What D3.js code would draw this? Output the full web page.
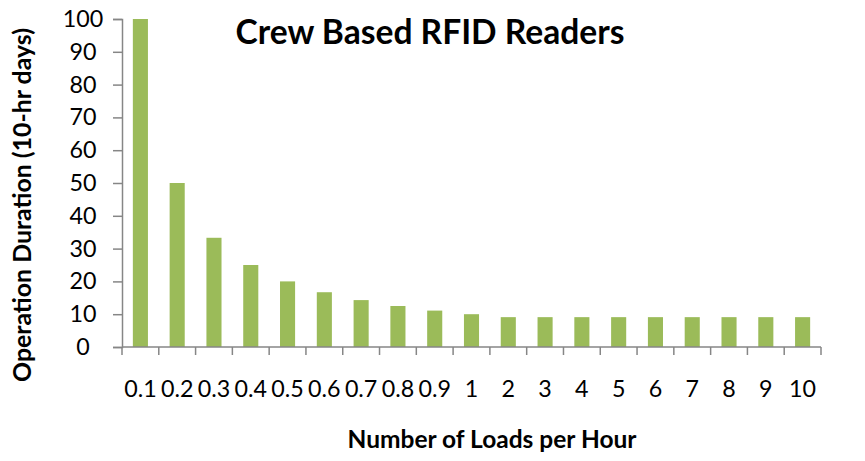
<!DOCTYPE html>
<html>
<head>
<meta charset="utf-8">
<script src="https://cdn.jsdelivr.net/npm/d3@7"></script>
<style>
  html, body { margin: 0; padding: 0; background: #fff; }
  svg { display: block; font-family: Lato, "Open Sans", sans-serif; }
</style>
</head>
<body>
<svg id="chart" width="865" height="461"></svg>
<script>
// Operation duration for crew-based RFID readers by load rate
const categories = ["0.1","0.2","0.3","0.4","0.5","0.6","0.7","0.8","0.9","1","2","3","4","5","6","7","8","9","10"];
const durations = [100, 50, 33.3, 25, 20, 16.7, 14.3, 12.5, 11.1, 10, 9.1, 9.1, 9.1, 9.1, 9.1, 9.1, 9.1, 9.1, 9.1];
const yTicks = [0, 10, 20, 30, 40, 50, 60, 70, 80, 90, 100];

const titleText = "Crew Based RFID Readers";
const xTitle = "Number of Loads per Hour";
const yTitle = "Operation Duration (10-hr days)";

const svg = d3.select("#chart");
const plotLeft = 122, plotRight = 821, plotTop = 19, plotBottom = 347;
const axisColor = "#868686";
const barColor = "#9BBB59";

// pick a tick font size that makes a two-digit label about 27px wide
const probe = svg.append("text").attr("font-size", 20).text("50");
const tickFont = 20 * 27 / probe.node().getComputedTextLength();
probe.remove();

const x = d3.scaleBand().domain(categories).range([plotLeft, plotRight]).paddingInner(0.59).paddingOuter(0.295);
const y = d3.scaleLinear().domain([0, 100]).range([plotBottom, plotTop]);

// bars
svg.append("g").selectAll("rect").data(durations).join("rect")
  .attr("x", (d, i) => x(categories[i]))
  .attr("y", d => y(d))
  .attr("width", x.bandwidth())
  .attr("height", d => y(0) - y(d))
  .attr("fill", barColor);

// y axis
const yAxis = svg.append("g").attr("transform", `translate(${plotLeft},0)`)
  .call(d3.axisLeft(y).tickValues(yTicks).tickSize(9).tickPadding(6));
yAxis.select(".domain").attr("stroke", axisColor).attr("stroke-width", 1.5);
yAxis.selectAll(".tick line").attr("stroke", axisColor).attr("stroke-width", 1.5);
// tick labels are centred in the margin column
yAxis.selectAll(".tick text")
  .attr("font-size", tickFont).attr("fill", "#000")
  .attr("font-family", "Lato, sans-serif")
  .attr("text-anchor", "middle")
  .attr("x", 83 - plotLeft);

// x axis: ticks sit on the category boundaries
const xAxis = svg.append("g").attr("transform", `translate(0,${plotBottom})`);
xAxis.append("line").attr("x1", plotLeft).attr("x2", plotRight).attr("stroke", axisColor).attr("stroke-width", 1.5);
const bounds = d3.range(categories.length + 1).map(i => plotLeft + i * (plotRight - plotLeft) / categories.length);
xAxis.selectAll("line.tk").data(bounds).join("line").attr("class", "tk")
  .attr("x1", d => d).attr("x2", d => d).attr("y1", 0).attr("y2", 8)
  .attr("stroke", axisColor).attr("stroke-width", 1.5);
xAxis.selectAll("text").data(categories).join("text")
  .attr("x", d => x(d) + x.bandwidth() / 2)
  .attr("y", 50)
  .attr("text-anchor", "middle")
  .attr("font-size", tickFont)
  .attr("fill", "#000")
  .text(d => d);

// fit a text element to a given width by adjusting its size
function fit(sel, width) {
  const fs = +sel.attr("font-size");
  const w = sel.node().getComputedTextLength();
  sel.attr("font-size", fs * width / w);
}

const t = svg.append("text").attr("x", 430).attr("y", 44).attr("text-anchor", "middle")
  .attr("font-weight", "bold").attr("font-size", 30).text(titleText);
fit(t, 389);

const xt = svg.append("text").attr("x", 492).attr("y", 448).attr("text-anchor", "middle")
  .attr("font-weight", "bold").attr("font-size", 20).text(xTitle);
fit(xt, 289);

const yt = svg.append("text").attr("transform", "translate(31,205) rotate(-90)").attr("text-anchor", "middle")
  .attr("font-weight", "bold").attr("font-size", 20).text(yTitle);
fit(yt, 354);
</script>
</body>
</html>
